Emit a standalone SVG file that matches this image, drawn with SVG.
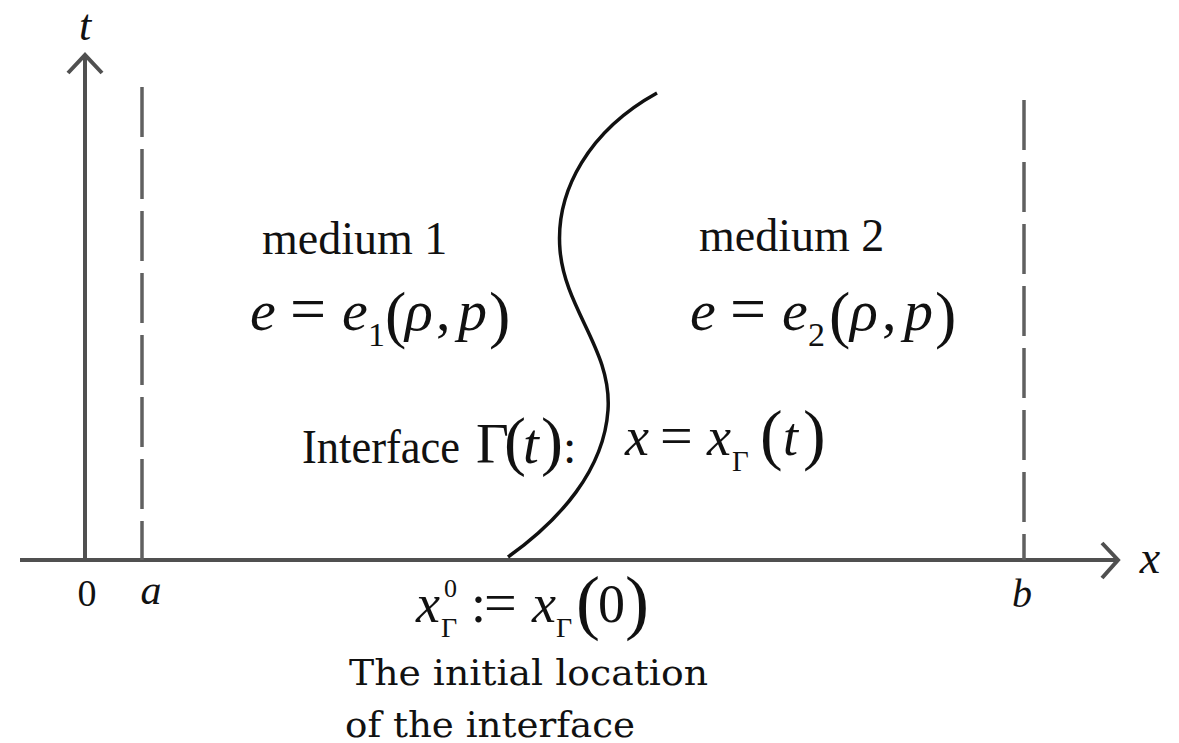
<svg xmlns="http://www.w3.org/2000/svg" width="1179" height="743" viewBox="0 0 1179 743">
<style>
.ax{stroke:#505050;stroke-width:4;fill:none}
.dash{stroke:#606060;stroke-width:3.5;fill:none;stroke-dasharray:50 12}
.curve{stroke:#111;stroke-width:3.5;fill:none}
.tx{font-family:"Liberation Serif","Times New Roman",serif;fill:#111}
.it{font-style:italic}
.lbl{font-family:"DejaVu Serif","Liberation Serif",serif;fill:#111}
</style>
<rect width="1179" height="743" fill="#fff"/>
<g id="connectors">
<line class="ax" x1="20" y1="560" x2="1117" y2="560"/>
<polyline class="ax" points="1102,543 1118,560 1102,578"/>
<line class="ax" x1="85" y1="560" x2="85" y2="55"/>
<polyline class="ax" points="68,73 85,55 102,73"/>
<line class="dash" x1="142" y1="87" x2="142" y2="560"/>
<line class="dash" x1="1024" y1="100" x2="1024" y2="560"/>
<path class="curve" d="M657,93 C590,130 555,190 560,250 C565,310 612,350 608,410 C604,470 560,520 508,557"/>
</g>
<g id="axis-labels" class="tx">
<text class="it" x="85" y="40" font-size="44" text-anchor="middle">t</text>
<text class="it" x="1150" y="573" font-size="46" text-anchor="middle">x</text>
<text x="87" y="606" font-size="38" text-anchor="middle">0</text>
<text class="it" x="151" y="604" font-size="42" text-anchor="middle">a</text>
<text class="it" x="1022" y="607" font-size="40" text-anchor="middle">b</text>
</g>
<g id="medium1" class="tx">
<text x="262" y="254" font-size="46">medium 1</text>
<text y="330" font-size="58"><tspan class="it" x="250">e</tspan><tspan x="290" font-size="64">=</tspan><tspan class="it" x="342">e</tspan><tspan x="368" y="346" font-size="34">1</tspan><tspan x="385" y="336" font-size="64">(</tspan><tspan class="it" x="405" y="330">ρ</tspan><tspan x="436">,</tspan><tspan class="it" x="458">p</tspan><tspan x="489" y="336" font-size="64">)</tspan></text>
</g>
<g id="medium2" class="tx">
<text x="699" y="251" font-size="46">medium 2</text>
<text y="330" font-size="58"><tspan class="it" x="690">e</tspan><tspan x="730" font-size="64">=</tspan><tspan class="it" x="782">e</tspan><tspan x="808" y="346" font-size="34">2</tspan><tspan x="829" y="336" font-size="64">(</tspan><tspan class="it" x="850" y="330">ρ</tspan><tspan x="882">,</tspan><tspan class="it" x="904">p</tspan><tspan x="935" y="336" font-size="64">)</tspan></text>
</g>
<g id="interface" class="tx">
<text x="302" y="463" font-size="48" textLength="158" lengthAdjust="spacingAndGlyphs">Interface</text>
<text y="463" font-size="57"><tspan x="476">Γ</tspan><tspan x="504" font-size="66">(</tspan><tspan class="it" x="523">t</tspan><tspan x="541" font-size="66">)</tspan><tspan x="563" font-size="48">:</tspan></text>
<text y="455" font-size="54"><tspan class="it" x="625">x</tspan><tspan x="660" font-size="58">=</tspan><tspan class="it" x="707">x</tspan><tspan x="732" y="471" font-size="29">Γ</tspan><tspan x="760" y="457" font-size="68">(</tspan><tspan class="it" x="783" y="455">t</tspan><tspan x="803" y="457" font-size="68">)</tspan></text>
</g>
<g id="initial" class="tx">
<text y="622" font-size="54"><tspan class="it" x="416">x</tspan><tspan x="444" y="597" font-size="26">0</tspan><tspan x="441" y="637" font-size="28">Γ</tspan><tspan x="471" y="622">:</tspan><tspan x="484" font-size="58">=</tspan><tspan class="it" x="532">x</tspan><tspan x="556" y="637" font-size="28">Γ</tspan><tspan x="576" y="626" font-size="72">(</tspan><tspan x="598" y="622">0</tspan><tspan x="625" y="626" font-size="72">)</tspan></text>
</g>
<g id="caption" class="lbl">
<text x="349" y="685" font-size="36" textLength="359" lengthAdjust="spacingAndGlyphs">The initial location</text>
<text x="345" y="737" font-size="36" textLength="290" lengthAdjust="spacingAndGlyphs">of the interface</text>
</g>
</svg>
